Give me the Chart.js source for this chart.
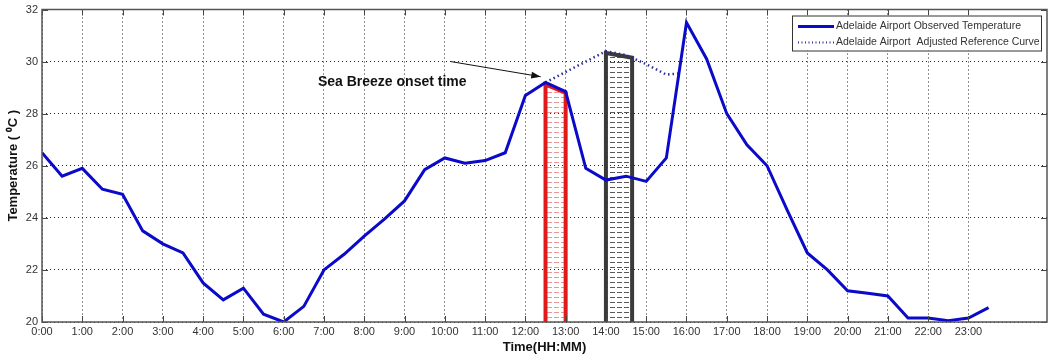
<!DOCTYPE html>
<html>
<head>
<meta charset="utf-8">
<script src="https://cdn.jsdelivr.net/npm/chart.js@4"></script>
<style>
  html, body { margin: 0; padding: 0; background: #fff; }
  #wrap { width: 1048px; height: 361px; }
</style>
</head>
<body>
<div id="wrap"><canvas id="tempChart"></canvas></div>
<script>
// observed temperature, half-hourly
const hours = [0, 0.5, 1, 1.5, 2, 2.5, 3, 3.5, 4, 4.5, 5, 5.5, 6, 6.5, 7, 7.5, 8, 8.5, 9, 9.5,
  10, 10.5, 11, 11.5, 12, 12.5, 13, 13.5, 14, 14.5, 15, 15.5, 16, 16.5, 17, 17.5, 18, 18.5, 19, 19.5,
  20, 20.5, 21, 21.5, 22, 22.5, 23, 23.5];
const observed = [26.5, 25.6, 25.9, 25.1, 24.9, 23.5, 23.0, 22.65, 21.5, 20.85, 21.3, 20.3, 20.0, 20.6, 22.0, 22.6, 23.3, 23.95, 24.65, 25.85,
  26.3, 26.1, 26.2, 26.5, 28.7, 29.2, 28.85, 25.9, 25.45, 25.6, 25.4, 26.3, 31.5, 30.1, 28.0, 26.8, 26.0, 24.3, 22.65, 22.0,
  21.2, 21.1, 21.0, 20.15, 20.15, 20.05, 20.15, 20.55];

// adjusted reference curve
const refHours = [12.5, 13, 13.5, 14, 14.5, 15, 15.5, 15.85];
const refTemps = [29.2, 29.6, 30.0, 30.4, 30.25, 29.9, 29.5, 29.55];

// hatched boxes (outline points)
const redBoxHours = [12.5, 12.5, 13, 13];
const redBoxTemps = [20, 29.12, 28.8, 20];
const grayBoxHours = [14, 14, 14.65, 14.65];
const grayBoxTemps = [20, 30.33, 30.15, 20];

const hourTicks = [0, 1, 2, 3, 4, 5, 6, 7, 8, 9, 10, 11, 12, 13, 14, 15, 16, 17, 18, 19, 20, 21, 22, 23];
const hourLabels = ['0:00', '1:00', '2:00', '3:00', '4:00', '5:00', '6:00', '7:00', '8:00', '9:00', '10:00', '11:00',
  '12:00', '13:00', '14:00', '15:00', '16:00', '17:00', '18:00', '19:00', '20:00', '21:00', '22:00', '23:00'];
const tempTicks = [20, 22, 24, 26, 28, 30, 32];

// annotation, in data units (hours, degC)
const noteText = 'Sea Breeze onset time';
const noteAt = [6.85, 29.2];
const arrowFrom = [10.15, 30.0];
const arrowTo = [12.38, 29.42];

const FONT = '"Liberation Sans", Arial, sans-serif';

function pts(xs, ys) {
    return xs.map((x, i) => ({ x: x, y: ys[i] }));
}

function hatch(color) {
    const c = document.createElement('canvas');
    c.width = 7;
    c.height = 5;
    const g = c.getContext('2d');
    g.fillStyle = color;
    g.fillRect(1, 2, 5, 1);
    return g.createPattern(c, 'repeat');
}

const frameAndNotes = {
    id: 'frameAndNotes',
    afterDraw(chart) {
        const ctx = chart.ctx;
        const a = chart.chartArea;
        const xs = chart.scales.x, ys = chart.scales.y;
        ctx.save();
        // inward tick marks
        ctx.strokeStyle = '#444';
        ctx.lineWidth = 1;
        ctx.beginPath();
        hourTicks.forEach(h => {
            const px = Math.round(xs.getPixelForValue(h)) + 0.5;
            ctx.moveTo(px, a.bottom); ctx.lineTo(px, a.bottom - 6);
            ctx.moveTo(px, a.top); ctx.lineTo(px, a.top + 6);
        });
        tempTicks.forEach(t => {
            const py = Math.round(ys.getPixelForValue(t)) + 0.5;
            ctx.moveTo(a.left, py); ctx.lineTo(a.left + 6, py);
            ctx.moveTo(a.right, py); ctx.lineTo(a.right - 6, py);
        });
        ctx.stroke();
        // frame
        ctx.strokeStyle = '#555';
        ctx.lineWidth = 1.5;
        ctx.strokeRect(a.left, a.top, a.right - a.left, a.bottom - a.top);

        // arrow
        const x1 = xs.getPixelForValue(arrowFrom[0]), y1 = ys.getPixelForValue(arrowFrom[1]);
        const x2 = xs.getPixelForValue(arrowTo[0]), y2 = ys.getPixelForValue(arrowTo[1]);
        ctx.strokeStyle = '#111';
        ctx.fillStyle = '#111';
        ctx.lineWidth = 1;
        ctx.beginPath();
        ctx.moveTo(x1, y1);
        ctx.lineTo(x2, y2);
        ctx.stroke();
        const ang = Math.atan2(y2 - y1, x2 - x1);
        ctx.beginPath();
        ctx.moveTo(x2, y2);
        ctx.lineTo(x2 - 10 * Math.cos(ang - 0.35), y2 - 10 * Math.sin(ang - 0.35));
        ctx.lineTo(x2 - 10 * Math.cos(ang + 0.35), y2 - 10 * Math.sin(ang + 0.35));
        ctx.closePath();
        ctx.fill();

        ctx.font = 'bold 14px ' + FONT;
        ctx.textAlign = 'left';
        ctx.textBaseline = 'middle';
        ctx.fillText(noteText, xs.getPixelForValue(noteAt[0]), ys.getPixelForValue(noteAt[1]));

        // legend box
        const bx = a.right - 255, by = a.top + 6, bw = 249, bh = 35;
        ctx.fillStyle = '#fff';
        ctx.fillRect(bx, by, bw, bh);
        ctx.strokeStyle = '#333';
        ctx.lineWidth = 1;
        ctx.strokeRect(bx + 0.5, by + 0.5, bw, bh);
        ctx.strokeStyle = '#0a0ac8';
        ctx.lineWidth = 3;
        ctx.beginPath();
        ctx.moveTo(bx + 6, by + 11); ctx.lineTo(bx + 42, by + 11);
        ctx.stroke();
        ctx.strokeStyle = '#2a2a9a';
        ctx.lineWidth = 2;
        ctx.setLineDash([1, 2.5]);
        ctx.beginPath();
        ctx.moveTo(bx + 6, by + 27); ctx.lineTo(bx + 42, by + 27);
        ctx.stroke();
        ctx.setLineDash([]);
        ctx.fillStyle = '#333';
        ctx.font = '10.5px ' + FONT;
        ctx.fillText('Adelaide Airport Observed Temperature', bx + 44, by + 11);
        ctx.fillText('Adelaide Airport  Adjusted Reference Curve', bx + 44, by + 27);
        ctx.restore();
    }
};

new Chart(document.getElementById('tempChart'), {
    type: 'line',
    data: {
        datasets: [{
            label: 'Adelaide Airport Observed Temperature',
            data: pts(hours, observed),
            borderColor: '#0a0ac8',
            borderWidth: 3,
            pointRadius: 0,
            tension: 0,
            order: 1
        }, {
            label: 'Adelaide Airport  Adjusted Reference Curve',
            data: pts(refHours, refTemps),
            borderColor: '#2a2a9a',
            borderWidth: 2.5,
            borderDash: [1.5, 3],
            pointRadius: 0,
            tension: 0,
            order: 2
        }, {
            label: 'onset',
            data: pts(redBoxHours, redBoxTemps),
            borderColor: '#e01a1a',
            borderWidth: 4,
            backgroundColor: hatch('rgba(225,80,80,0.6)'),
            fill: { value: 20 },
            pointRadius: 0,
            tension: 0,
            order: 3
        }, {
            label: 'peak',
            data: pts(grayBoxHours, grayBoxTemps),
            borderColor: '#3a3a3a',
            borderWidth: 4,
            backgroundColor: hatch('rgba(60,60,60,0.85)'),
            fill: { value: 20 },
            pointRadius: 0,
            tension: 0,
            order: 4
        }]
    },
    options: {
        responsive: true,
        maintainAspectRatio: false,
        animation: false,
        layout: { padding: { top: 8, right: 1, left: 0, bottom: 0 } },
        plugins: {
            legend: { display: false },
            tooltip: { enabled: false }
        },
        scales: {
            x: {
                type: 'linear',
                min: 0,
                max: 24.95,
                afterBuildTicks: function (scale) {
                    scale.ticks = hourTicks.map(v => ({ value: v }));
                },
                afterFit: function (scale) { scale.height = 39; },
                ticks: {
                    autoSkip: false,
                    maxRotation: 0,
                    padding: 3,
                    color: '#333',
                    font: { family: FONT, size: 11 },
                    callback: function (value) {
                        return hourLabels[hourTicks.indexOf(value)];
                    }
                },
                grid: { color: '#222', lineWidth: 1, drawTicks: false },
                border: { display: false, dash: [1, 3] },
                title: {
                    display: true,
                    text: 'Time(HH:MM)',
                    color: '#111',
                    font: { family: FONT, size: 13, weight: 'bold' },
                    padding: { top: 0, bottom: 6 }
                }
            },
            y: {
                min: 20,
                max: 32,
                afterBuildTicks: function (scale) {
                    scale.ticks = tempTicks.map(v => ({ value: v }));
                },
                afterFit: function (scale) { scale.width = 42; },
                ticks: {
                    padding: 4,
                    color: '#333',
                    font: { family: FONT, size: 11, lineHeight: 1 }
                },
                grid: { color: '#222', lineWidth: 1, drawTicks: false },
                border: { display: false, dash: [1, 3] },
                title: {
                    display: true,
                    text: 'Temperature ( \u2070C )',
                    color: '#111',
                    font: { family: FONT, size: 13, weight: 'bold' },
                    padding: { top: 6, bottom: 0 }
                }
            }
        }
    },
    plugins: [frameAndNotes]
});
</script>
</body>
</html>
